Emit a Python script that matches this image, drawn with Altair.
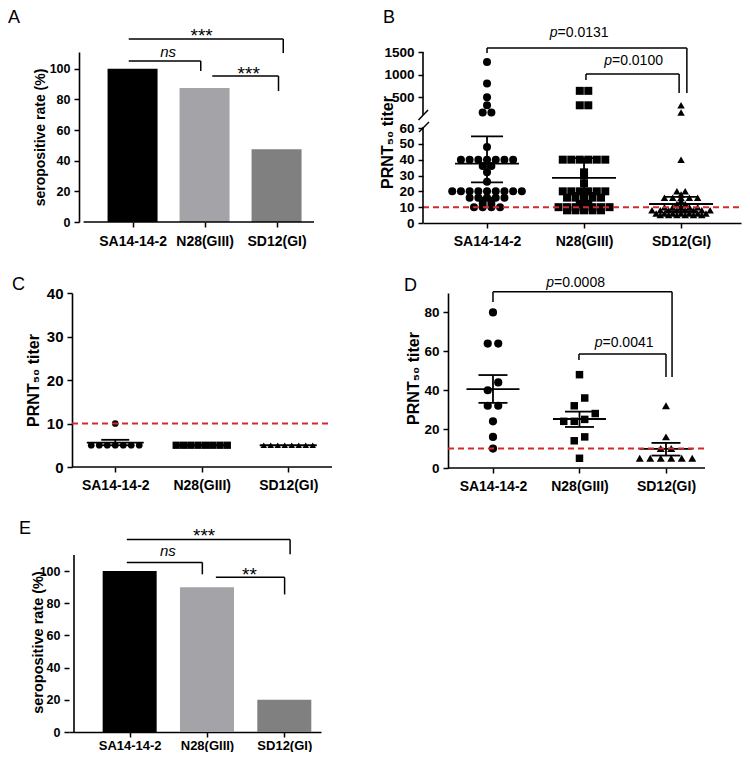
import json
import altair as alt
import pandas as pd
import numpy as np

FONT = "Liberation Sans"

# ---------------- data ----------------
groups = ["SA14-14-2", "N28(GIII)", "SD12(GI)"]

rate_A = [100, 87.5, 47.5]
rate_E = [100, 90, 20]

B_sa14 = [1280, 800, 500, 320, 160, 160, 48] + [40] * 7 + [36, 36, 32, 26] + [20] * 9 + [16] * 5 + [14, 14, 12, 12, 10, 10, 10, 10]
B_n28 = [640, 640, 320, 320] + [40] * 6 + [32, 30, 25] + [20] * 6 + [18] + [16] * 5 + [13, 12, 12] + [10] * 7 + [8] * 5
B_sd12 = [320, 160, 40, 20, 20, 18] + [16] * 5 + [14, 12, 12] + [10] * 5 + [8] * 8 + [6] * 7 + [5] * 6
B_mean = [37.5, 28.5, 12.0]
B_lo = [25.6, 19.0, 7.5]
B_hi = [54.7, 41.0, 16.5]

C_sa14 = [10, 5, 5, 5, 5, 5, 5, 5]
C_n28 = [5] * 8
C_sd12 = [5] * 8
C_mean = [5.6, 5.0, 5.0]
C_lo = [5.0, 5.0, 5.0]
C_hi = [6.25, 5.0, 5.0]

D_sa14 = [80, 64, 64, 44, 40, 32, 32, 24, 16, 10]
D_n28 = [48, 36, 32, 28, 25, 24, 24, 16, 14, 5]
D_sd12 = [32, 16, 10, 10, 5, 5, 5, 5, 5, 5]
D_mean = [40.6, 25.2, 9.8]
D_lo = [33.5, 21.1, 6.4]
D_hi = [47.8, 29.0, 12.9]

cutoff = 10

# comparison brackets: (x_start, x_end, y_line, y_left_end, y_right_end)
A_brackets = [(0.947, 3.093, 119.5, 119.5, 110.3), (0.947, 1.947, 105.1, 105.1, 98.6), (2.107, 3.027, 95.3, 95.3, 85.5)]
A_marks = [("***", 1.96, 117.5), ("ns", 1.493, 107.5), ("***", 2.613, 92.8)]
E_brackets = [(0.963, 3.075, 119.7, 119.7, 110.4), (0.963, 1.94, 105.4, 105.4, 98.0), (2.115, 3.004, 96.1, 96.1, 85.5)]
E_marks = [("***", 1.963, 118.1), ("ns", 1.494, 109.1), ("**", 2.55, 93.9)]
B_brackets = [(1.0, 3.06, 1588, 1478, 592), (2.02, 2.98, 1013, 880, 592)]
B_pvals = [("0.0131", 1.727, 1830), ("0.0100", 2.288, 1212)]
D_brackets = [(1.0, 3.07, 90.6, 85.4, 46.8), (1.994, 3.0, 58.6, 55.5, 46.8)]
D_pvals = [("0.0008", 1.705, 93.0), ("0.0041", 2.266, 62.1)]

# ---------------- helpers ----------------
LABEL_EXPR = "%s[round(datum.value) - 1]" % json.dumps(groups)


def x_enc(P):
    return alt.X("x:Q", scale=alt.Scale(domain=P["xdom"], nice=False, zero=False),
                 axis=alt.Axis(values=[1, 2, 3], labelExpr=LABEL_EXPR, title=None,
                               labelFontSize=P["xlab"], labelPadding=P["xpad"], labelAngle=0,
                               domain=P.get("xdomline", True)))


def y_enc(P):
    if "yrange" in P:
        sc = alt.Scale(domain=P["ydom"], range=P["yrange"], nice=False, zero=False)
    else:
        sc = alt.Scale(domain=P["ydom"], nice=False, zero=False)
    ax = alt.Axis(values=P["yticks"], title=P["ytitle"], titleX=P["tx"], titleY=P["ty"],
                  titleAngle=-90, titleBaseline="middle", titleAlign="center",
                  titleFontSize=P["tfs"], labelFontSize=P["ylab"], labelPadding=4, format="d",
                  domain=P.get("ydomline", True), offset=P.get("yoff", 0))
    return alt.Y("y:Q", scale=sc, axis=ax)


def seg_chart(P, segs, width=1.5, color="black"):
    df = pd.DataFrame(segs, columns=["x", "x2", "y", "y2"])
    return alt.Chart(df).mark_rule(color=color, strokeWidth=width).encode(
        x=x_enc(P), x2="x2:Q", y=y_enc(P), y2="y2:Q")


def bracket_segs(brs):
    out = []
    for x1, x2, y, yl, yr in brs:
        out.append((x1, x2, y, y))
        if yl != y:
            out.append((x1, x1, y, yl))
        if yr != y:
            out.append((x2, x2, y, yr))
    return out


def errbar_segs(mean, lo, hi, hm, hc):
    out = []
    for i in range(3):
        g = i + 1
        out.append((g - hm, g + hm, mean[i], mean[i]))
        if hi[i] > lo[i]:
            out.append((g, g, lo[i], hi[i]))
            out.append((g - hc, g + hc, lo[i], lo[i]))
            out.append((g - hc, g + hc, hi[i], hi[i]))
    return out


def swarm_x(vals, gi, ypx, d, thr, step):
    order = sorted(range(len(vals)), key=lambda i: vals[i])
    rows, cur, start = [], [], None
    for i in order:
        p = ypx(vals[i])
        if cur and p - start < thr:
            cur.append(i)
        else:
            if cur:
                rows.append(cur)
            cur, start = [i], p
    rows.append(cur)
    xs = [0.0] * len(vals)
    for r in rows:
        n = len(r)
        for k, i in enumerate(r):
            xs[i] = gi + (k - (n - 1) / 2) * d / step
    return xs


def points_chart(P, vals, gi, shape, size, d, thr):
    xs = swarm_x(vals, gi, P["ypx"], d, thr, P["step"])
    df = pd.DataFrame({"x": xs, "y": vals})
    return alt.Chart(df).mark_point(shape=shape, size=size, filled=True, opacity=1,
                                    color="black", strokeWidth=0).encode(x=x_enc(P), y=y_enc(P))


def text_chart(P, txt, x, y, **kw):
    df = pd.DataFrame({"x": [x], "y": [y], "t": [txt]})
    return alt.Chart(df).mark_text(font=FONT, color="black", **kw).encode(
        x=x_enc(P), y=y_enc(P), text="t:N")


def letter(txt, x, y):
    return alt.Chart(pd.DataFrame({"t": [txt]})).mark_text(
        text=txt, font=FONT, fontSize=18, align="left", baseline="top", color="black"
    ).encode(x=alt.value(x), y=alt.value(y))


def cutoff_chart(P):
    df = pd.DataFrame({"x": [P["xaxis"][0]], "x2": [P["xaxis"][1]], "y": [cutoff]})
    return alt.Chart(df).mark_rule(color="#d22b2b", strokeWidth=2, strokeDash=[6, 4]).encode(
        x=x_enc(P), x2="x2:Q", y=y_enc(P))


def xaxis_line(P):
    return seg_chart(P, [(P["xaxis"][0], P["xaxis"][1], 0, 0)], width=1.6)


def bar_panel(P, rates, brs, marks, let, lxy, extra=()):
    df = pd.DataFrame({"x": [1, 2, 3], "y": rates, "g": groups})
    bars = alt.Chart(df).mark_bar(size=P["barw"]).encode(
        x=x_enc(P), y=y_enc(P),
        color=alt.Color("g:N", scale=alt.Scale(domain=groups, range=["#000000", "#a4a4a8", "#808080"]), legend=None))
    layers = [bars, seg_chart(P, bracket_segs(brs))] + list(extra)
    for t, x, y in marks:
        if t == "ns":
            layers.append(text_chart(P, t, x, y, fontSize=15, fontStyle="italic", align="center", baseline="alphabetic"))
        else:
            layers.append(text_chart(P, t, x, y, fontSize=19, align="center", baseline="alphabetic"))
    layers.append(letter(let, *lxy))
    return alt.layer(*layers).properties(width=P["w"], height=P["h"])


def pval_layers(P, pvals):
    out = []
    for v, x, y in pvals:
        out.append(text_chart(P, "p", x, y, fontSize=14, fontStyle="italic", align="right", baseline="alphabetic"))
        out.append(text_chart(P, "=" + v, x, y, fontSize=14, align="left", baseline="alphabetic"))
    return out


# ---------------- panel geometry ----------------
PA = dict(xdom=[0.1867, 3.52], xaxis=(0.32, 3.52), w=250, h=170, ydom=[0, 111], yticks=[0, 20, 40, 60, 80, 100],
          ytitle="seropositive rate (%)", tx=-39, ty=85, tfs=14, ylab=12.5, xlab=14, xpad=7, barw=50,
          yoff=-10, xdomline=False)
PE = dict(xdom=[0.28, 3.41], xaxis=(0.28, 3.41), w=252, h=194, ydom=[0, 120.57], yticks=[0, 20, 40, 60, 80, 100],
          ytitle="seropositive rate (%)", tx=-30.5, ty=104, tfs=14.5, ylab=12.5, xlab=13, xpad=2, barw=54,
          ydomline=False)
PB = dict(xdom=[0.34, 3.618], xaxis=(0.34, 3.618), w=318, h=171, ydom=[0, 60, 61, 1500], yrange=[171, 76, 65, 0],
          yticks=[0, 10, 20, 30, 40, 50, 60, 500, 1000, 1500], ytitle="PRNT₅₀ titer",
          tx=-36, ty=90, tfs=16, ylab=13.5, xlab=14, xpad=6, ydomline=False, step=97,
          ypx=lambda v: float(np.interp(v, [0, 60, 61, 1500], [0, 95, 106, 171])))
PC = dict(xdom=[0.4653, 3.506], xaxis=(0.5, 3.506), w=263, h=174, ydom=[0, 40], yticks=[0, 10, 20, 30, 40],
          ytitle="PRNT₅₀ titer", tx=-39, ty=87, tfs=16, ylab=15, xlab=14, xpad=6, step=86.5,
          ypx=lambda v: v * 174 / 40, yoff=-3, xdomline=False)
PD = dict(xdom=[0.191, 3.451], xaxis=(0.48, 3.451), w=282, h=175, ydom=[0, 90], yticks=[0, 20, 40, 60, 80],
          ytitle="PRNT₅₀ titer", tx=-35, ty=85, tfs=16, ylab=13.5, xlab=14, xpad=6, step=86.5,
          ypx=lambda v: v * 175 / 90, yoff=-25, xdomline=False)

# ---------------- panels ----------------
panelA = bar_panel(PA, rate_A, A_brackets, A_marks, "A", (-61, -43), extra=[xaxis_line(PA)])
panelE = bar_panel(PE, rate_E, E_brackets, E_marks, "E", (-50, -18),
                   extra=[seg_chart(PE, [(0.28, 0.28, 0, 110)], width=1.6)])

# B
b_axis = seg_chart(PB, [(0.34, 0.34, 0, 60.09), (0.34, 0.34, 105, 1500)], width=1.6)
slash = alt.Chart(pd.DataFrame({"k": [0]})).mark_rule(strokeWidth=1.5, color="black")
b_slash1 = slash.encode(x=alt.value(-4.5), x2=alt.value(5), y=alt.value(68), y2=alt.value(58))
b_slash2 = slash.encode(x=alt.value(-4), x2=alt.value(6), y=alt.value(80), y2=alt.value(70))
panelB = alt.layer(
    points_chart(PB, B_sa14, 1, "circle", 64, 8.7, 1),
    points_chart(PB, B_n28, 2, "square", 64, 8.5, 1),
    points_chart(PB, B_sd12, 3, "triangle-up", 56, 8.3, 1),
    seg_chart(PB, errbar_segs(B_mean, B_lo, B_hi, 32 / 97, 16 / 97), width=1.8),
    cutoff_chart(PB),
    b_axis, b_slash1, b_slash2,
    seg_chart(PB, bracket_segs(B_brackets)),
    *pval_layers(PB, B_pvals),
    letter("B", -40, -43),
).properties(width=PB["w"], height=PB["h"])

panelC = alt.layer(
    points_chart(PC, C_sa14, 1, "circle", 45, 8, 1),
    points_chart(PC, C_n28, 2, "square", 53, 7.3, 1),
    points_chart(PC, C_sd12, 3, "triangle-up", 42, 7, 1),
    seg_chart(PC, errbar_segs(C_mean, C_lo, C_hi, 28.5 / 86.5, 14 / 86.5), width=1.8),
    cutoff_chart(PC),
    xaxis_line(PC),
    letter("C", -57, -17),
).properties(width=PC["w"], height=PC["h"])

panelD = alt.layer(
    points_chart(PD, D_sa14, 1, "circle", 67, 10.5, 9),
    points_chart(PD, D_n28, 2, "square", 56, 10.5, 9),
    points_chart(PD, D_sd12, 3, "triangle-up", 64, 10.5, 9),
    seg_chart(PD, errbar_segs(D_mean, D_lo, D_hi, 26.5 / 86.5, 14.5 / 86.5), width=1.8),
    cutoff_chart(PD),
    xaxis_line(PD),
    seg_chart(PD, bracket_segs(D_brackets)),
    *pval_layers(PD, D_pvals),
    letter("D", -19, -16),
).properties(width=PD["w"], height=PD["h"])

chart = alt.concat(
    panelA, panelB, panelC, panelD, panelE,
    columns=2, spacing={"row": 70, "column": 91}, bounds="flush", align="each",
).properties(padding={"top": 1, "left": 0, "right": 0, "bottom": 0}, background="white").configure_view(stroke=None).configure_axis(
    grid=False, domainColor="black", domainWidth=1.6, tickColor="black", tickWidth=1.5,
    tickSize=5, labelColor="black", labelFont=FONT, labelFontWeight="bold",
    titleFont=FONT, titleFontWeight="bold", titleColor="black")

chart.save("out.html", embed_options={"renderer": "svg", "actions": False})
